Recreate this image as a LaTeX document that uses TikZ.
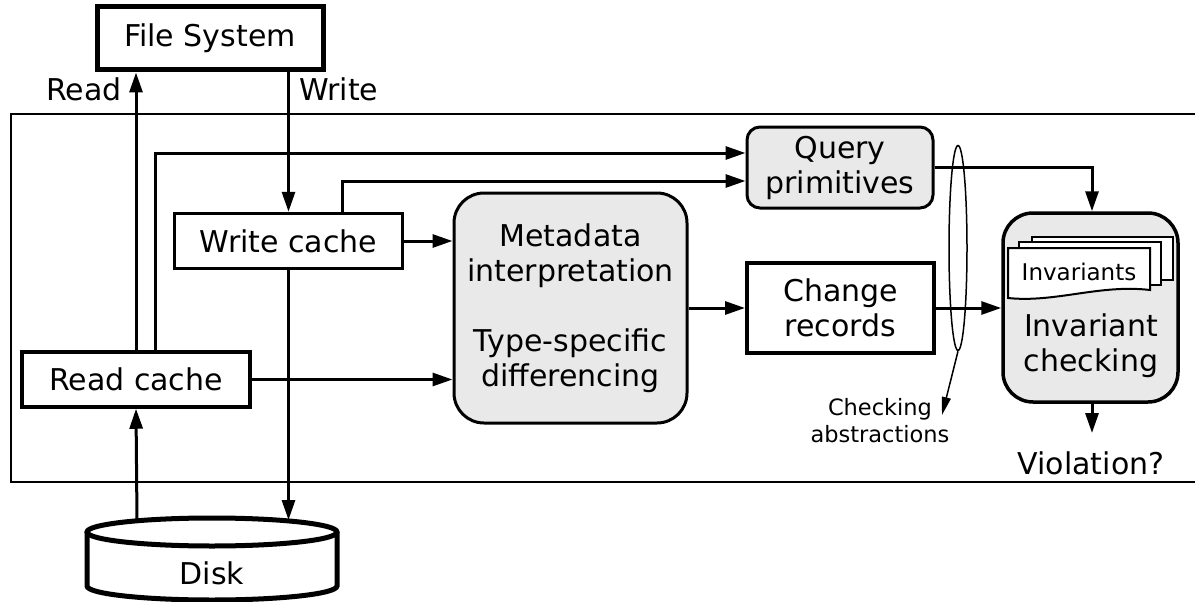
\documentclass[tikz,border=0pt]{standalone}
\usepackage{fontspec}
\setmainfont{DejaVu Sans}
\usetikzlibrary{arrows.meta,shapes.geometric}
\tikzset{
  arr/.style={line width=3pt,-{Triangle[length=20pt,width=13pt]}},
  plainbox/.style={draw,line width=3.5pt,fill=white,inner sep=0pt,align=center,font=\fontsize{30}{35}\selectfont},
  shadebox/.style={plainbox,fill=gray!17,line width=3pt},
  doc/.style={draw,line width=2pt,fill=white},
  bigtext/.style={font=\fontsize{30}{35}\selectfont,align=center,inner sep=0pt},
  smalltext/.style={font=\fontsize{22.5}{27}\selectfont,align=center,inner sep=0pt},
}
\begin{document}
\begin{tikzpicture}[x=1pt,y=-1pt]
\useasboundingbox (0,0) rectangle (1195,602);
% outer frame
\draw[line width=2pt] (1196,114) -- (11,114) -- (11,482) -- (1196,482);

% nodes
\node[plainbox,line width=5pt,minimum width=226pt,minimum height=63pt] (fs) at (210,38.5) {File System};
\node[plainbox,minimum width=228pt,minimum height=55pt] (wc) at (288.5,241) {Write cache};
\node[plainbox,minimum width=228pt,minimum height=55pt] (rc) at (136,379.5) {Read cache};
\node[shadebox,rounded corners=30pt,minimum width=233pt,minimum height=230pt] (meta) at (570.5,308)
  {Metadata\\interpretation\\[35pt]Type-specific\\differencing};
\node[shadebox,rounded corners=13pt,minimum width=186pt,minimum height=81pt] (q) at (840,167.5) {Query\\primitives};
\node[plainbox,line width=4pt,minimum width=187pt,minimum height=90pt] (ch) at (840.5,308) {Change\\records};
\node[shadebox,line width=3.5pt,rounded corners=30pt,minimum width=175pt,minimum height=189pt] (inv) at (1090.5,307.5) {};

% invariants document stack
\draw[doc] (1032,237) rectangle (1173,280);
\draw[doc] (1019,242) rectangle (1161,285);
\draw[doc] (1150,290) -- (1150,248) -- (1008,248) -- (1008,298)
  .. controls (1055,303) and (1100,284) .. cycle;
\node[font=\fontsize{23}{27}\selectfont,inner sep=0pt] (invs) at (1079,272) {Invariants};
\node[bigtext] (invtext) at (1091,346) {Invariant\\checking};

% disk
\draw[line width=5pt,fill=white] (87,532) -- (87,586) arc[start angle=180,end angle=360,x radius=125pt,y radius=14pt] -- (337,532);
\draw[line width=5pt,fill=white] (212,532) ellipse [x radius=125pt,y radius=14pt];
\node[bigtext] (disk) at (212,573) {Disk};
\coordinate (dkA) at (137,520);
\coordinate (dkB) at (288.5,520);

% labels
\node[bigtext,anchor=base east] (readl) at (122,101) {Read};
\node[bigtext,anchor=base west] (writel) at (299,101) {Write};
\node[bigtext] (viol) at (1091,463) {Violation?};
\coordinate (vtip) at (1092,433);

% checking abstractions
\node[draw,ellipse,line width=1.5pt,minimum width=18pt,minimum height=205pt,inner sep=0pt] (ell) at (958,248) {};
\node[smalltext] (cabs) at (880,421) {Checking\\abstractions};
\coordinate (catip) at (942,415);

% connectors
\draw[arr] (rc.north) -- (rc.north |- fs.south);
\draw[arr] (wc.north |- fs.south) -- (wc.north);
\draw[arr] ([xshift=19pt]rc.north) |- ([yshift=14.5pt]q.west);
\draw[arr] ([xshift=53.5pt]wc.north) |- ([yshift=-13.5pt]q.west);
\draw[arr] (wc.east) -- (wc.east -| meta.west);
\draw[arr] (rc.east) -- (rc.east -| meta.west);
\draw[arr] (meta.east) -- (ch.west);
\draw[arr] (wc.south) -- (dkB);
\draw[arr] (dkA) -- (rc.south);
\draw[arr] (q.east) -| ([xshift=1.5pt]inv.north);
\draw[arr] (ch.east) -- (ch.east -| inv.west);
\draw[arr] ([xshift=1.5pt]inv.south) -- (vtip);
\draw[line width=1.5pt,-{Triangle[length=18pt,width=9pt]}] (ell.south) -- (catip);
\end{tikzpicture}
\end{document}
